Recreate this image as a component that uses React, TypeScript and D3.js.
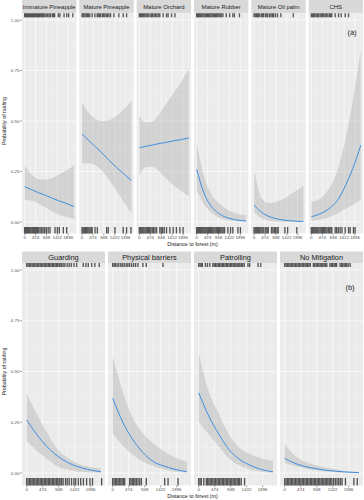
import * as d3 from "d3";

// facet names
const FACETS_A = ["Immature Pineapple", "Mature Pineapple", "Mature Orchard", "Mature Rubber", "Mature Oil palm", "CHS"];
const FACETS_B = ["Guarding", "Physical barriers", "Patrolling", "No Mitigation"];

const X_TICKS = [0, 474, 948, 1422, 1896];
const X_MINOR = [237, 711, 1185, 1659, 2133];
const Y_TICKS = [0, 0.25, 0.5, 0.75, 1];
const Y_MINOR = [0.125, 0.375, 0.625, 0.875];

// distances (m) where the fitted curves were read
const DIST_A = [0, 300, 600, 900, 1200, 1500, 1800, 2150];
const DIST_B = [0, 300, 600, 900, 1200, 1500, 1800, 2200];

// (a) land use: fitted probability, lower and upper CI
const FIT_A = [
  [0.175, 0.16, 0.145, 0.132, 0.118, 0.104, 0.092, 0.076],
  [0.436, 0.403, 0.37, 0.338, 0.303, 0.27, 0.24, 0.205],
  [0.368, 0.375, 0.382, 0.389, 0.395, 0.402, 0.408, 0.416],
  [0.26, 0.148, 0.083, 0.047, 0.027, 0.016, 0.009, 0.005],
  [0.084, 0.05, 0.03, 0.018, 0.011, 0.007, 0.004, 0.002],
  [0.026, 0.037, 0.053, 0.078, 0.118, 0.185, 0.265, 0.38],
];
const LOW_A = [
  [0.11, 0.105, 0.092, 0.072, 0.052, 0.036, 0.025, 0.015],
  [0.29, 0.29, 0.28, 0.25, 0.205, 0.155, 0.1, 0.045],
  [0.228, 0.272, 0.272, 0.245, 0.21, 0.18, 0.155, 0.129],
  [0.158, 0.09, 0.05, 0.025, 0.012, 0.006, 0.003, 0.002],
  [0.05, 0.02, 0.008, 0.003, 0.001, 0, 0, 0],
  [0.005, 0.01, 0.018, 0.03, 0.045, 0.065, 0.085, 0.11],
];
const HIGH_A = [
  [0.277, 0.235, 0.212, 0.21, 0.218, 0.235, 0.255, 0.28],
  [0.59, 0.54, 0.51, 0.5, 0.505, 0.525, 0.555, 0.6],
  [0.525, 0.492, 0.5, 0.54, 0.59, 0.64, 0.69, 0.76],
  [0.39, 0.235, 0.145, 0.1, 0.07, 0.052, 0.04, 0.035],
  [0.26, 0.125, 0.095, 0.098, 0.11, 0.13, 0.152, 0.18],
  [0.1, 0.11, 0.14, 0.19, 0.28, 0.42, 0.6, 0.85],
];

// (b) mitigation
const FIT_B = [
  [0.261, 0.19, 0.13, 0.085, 0.053, 0.032, 0.018, 0.006],
  [0.368, 0.25, 0.163, 0.1, 0.057, 0.035, 0.02, 0.006],
  [0.395, 0.28, 0.19, 0.115, 0.068, 0.04, 0.02, 0.006],
  [0.072, 0.048, 0.032, 0.022, 0.014, 0.009, 0.005, 0.002],
];
const LOW_B = [
  [0.159, 0.11, 0.07, 0.033, 0.017, 0.008, 0.004, 0.001],
  [0.195, 0.135, 0.089, 0.055, 0.034, 0.018, 0.008, 0.002],
  [0.253, 0.19, 0.13, 0.07, 0.038, 0.018, 0.007, 0.001],
  [0.05, 0.034, 0.022, 0.013, 0.007, 0.004, 0.002, 0.001],
];
const HIGH_B = [
  [0.393, 0.29, 0.2, 0.12, 0.076, 0.048, 0.032, 0.023],
  [0.573, 0.4, 0.27, 0.195, 0.146, 0.11, 0.08, 0.056],
  [0.59, 0.4, 0.29, 0.19, 0.125, 0.095, 0.075, 0.06],
  [0.143, 0.085, 0.055, 0.04, 0.028, 0.018, 0.01, 0.005],
];

// rug: raided (top) and not raided (bottom) observations, distance in m
const RUG_TOP_A = [
  [0, 40, 80, 120, 160, 200, 250, 300, 340, 380, 420, 470, 520, 560, 600, 650, 700, 740, 780, 830, 880, 930, 1000, 1060, 1120, 1200, 1260, 1300, 1460, 1530, 1710, 1830, 1910, 2090],
  [0, 40, 80, 130, 180, 230, 280, 340, 443, 559, 660, 700, 750, 800, 880, 930, 990, 1050, 1110, 1170, 1240, 1385, 1600, 1790, 1935],
  [0, 40, 90, 140, 190, 240, 290, 340, 380, 460, 520, 580, 640, 700, 760, 830, 890, 1035, 1180, 1250, 1400, 1545],
  [0, 40, 80, 120, 170, 220, 270, 320, 370, 420, 470, 520, 570, 620, 670, 720, 770, 820, 870, 920, 970, 1020, 1065, 1140, 1283, 1430, 1570, 1640, 1860],
  [0, 50, 100, 150, 200, 250, 330, 380, 420, 500, 560, 600, 680, 740, 800, 850, 930, 1020, 1165, 1705],
  [0, 50, 100, 150, 200, 260, 310, 380, 430, 490, 540, 600, 660, 720, 790, 840, 890, 1035, 1180, 1295, 1470, 1615],
];
const RUG_BOT_A = [
  [0, 40, 80, 120, 160, 200, 240, 280, 330, 380, 420, 460, 510, 560, 610, 670, 740, 800, 870, 940, 1020, 1100, 1318, 1420, 1505, 1680, 1825],
  [0, 40, 80, 120, 160, 200, 250, 300, 350, 400, 440, 565, 665, 1070, 1140, 1430, 1790, 1935, 2125],
  [0, 40, 80, 120, 160, 200, 250, 300, 350, 400, 450, 500, 560, 620, 680, 750, 890, 950, 1010, 1080, 1180, 1325, 1470, 1610, 1760, 1900],
  [0, 40, 80, 120, 160, 200, 240, 280, 320, 360, 400, 440, 480, 520, 560, 600, 650, 700, 750, 800, 850, 900, 950, 1000, 1050, 1100, 1150, 1210, 1355, 1470, 1570, 1790, 1900],
  [0, 40, 80, 120, 160, 200, 250, 300, 350, 400, 480, 520, 570, 620, 760, 820, 880, 940, 1000, 1050, 1340, 1460, 1860],
  [0, 40, 80, 120, 160, 200, 240, 280, 330, 380, 430, 480, 530, 580, 630, 680, 740, 800, 850, 890, 1035, 1100, 1170, 1250, 1330, 1470, 1615, 1685, 1830, 1900],
];
const RUG_TOP_B = [
  [0, 40, 80, 120, 160, 200, 240, 280, 320, 360, 400, 440, 480, 520, 560, 600, 640, 680, 720, 760, 800, 840, 880, 920, 960, 990, 1035, 1080, 1130, 1200, 1260, 1320, 1400, 1480, 1675, 1755, 1825, 1925, 2020, 2150],
  [0, 40, 80, 130, 180, 240, 290, 340, 400, 450, 500, 560, 620, 680, 750, 895, 995, 1490],
  [0, 40, 80, 110, 200, 260, 330, 420, 460, 500, 540, 580, 620, 660, 700, 740, 780, 820, 860, 900, 940, 980, 1020, 1060, 1100, 1140, 1180, 1220, 1260, 1300, 1350, 1460, 1510, 1760, 1840],
  [0, 40, 80, 120, 160, 200, 240, 280, 320, 360, 400, 440, 480, 520, 560, 600, 640, 680, 720, 760, 850, 890, 930, 970, 1010, 1050, 1090, 1130, 1170, 1210, 1250, 1340, 1380, 1420, 1460, 1500, 1540, 1640, 1680, 1720, 1760, 1800, 1840, 1880, 1940],
];
const RUG_BOT_B = [
  [0, 40, 80, 120, 160, 200, 240, 280, 320, 360, 400, 440, 480, 520, 560, 600, 640, 680, 720, 760, 800, 840, 880, 920, 960, 990, 1035, 1080, 1150, 1200, 1260, 1330, 1400, 1450, 1530, 1600, 1680, 1775, 1875, 1950, 2220],
  [0, 40, 80, 120, 160, 200, 240, 280, 320, 355, 500, 540, 580, 620, 660, 700, 750, 800, 850, 995, 1540, 1640, 1935],
  [0, 40, 77, 150, 225, 260, 300, 340, 380, 420, 460, 500, 540, 580, 620, 660, 700, 740, 780, 820, 860, 900, 940, 980, 1020, 1060, 1100, 1140, 1180, 1210, 1260, 1360],
  [0, 40, 80, 120, 160, 200, 240, 280, 320, 360, 400, 440, 480, 520, 560, 600, 640, 680, 720, 760, 800, 840, 880, 920, 960, 1000, 1040, 1080, 1120, 1160, 1200, 1240, 1280, 1320, 1360, 1400, 1450, 1500, 1550, 1600, 1650, 1700, 1800, 2050, 2150],
];

const FONT = "'Liberation Sans', Arial, sans-serif";
const LINE_COL = "#3d8fe3";
const RUG_COL = "#555";

type RowProps = {
  names: string[];
  left: number;
  right: number;
  gap: number;
  stripTop: number;
  panelTop: number;
  panelBottom: number;
  yRange: [number, number];
  xDomain: [number, number];
  dist: number[];
  fit: number[][];
  lo: number[][];
  hi: number[][];
  rugTop: number[][];
  rugBot: number[][];
  stripSize: number;
  botRugLen: number;
  tag: string;
  tagX: number;
  tagY: number;
};

function Row(p: RowProps) {
  const n = p.names.length;
  const pw = (p.right - p.left - p.gap * (n - 1)) / n;
  const x = d3.scaleLinear().domain(p.xDomain).range([0, pw]);
  const y = d3.scaleLinear().domain([0, 1]).range(p.yRange);
  const ph = p.panelBottom - p.panelTop;

  const yMid = (p.yRange[0] + p.yRange[1]) / 2;

  return (
    <g>
      {/* y axis (left of first panel) */}
      {Y_TICKS.map((t) => (
        <g key={"yt" + t}>
          <line x1={p.left - 1.8} x2={p.left} y1={y(t)} y2={y(t)} stroke="#333" strokeWidth={0.5} />
          <text x={p.left - 2.6} y={y(t) + 1.5} fontSize={4.4} fill="#4d4d4d" textAnchor="end" fontFamily={FONT}>
            {t.toFixed(2)}
          </text>
        </g>
      ))}
      <text
        transform={`translate(6.2,${yMid}) rotate(-90)`}
        fontSize={5.3}
        textAnchor="middle"
        fill="#1a1a1a"
        fontFamily={FONT}
      >
        Probability of raiding
      </text>
      <text x={(p.left + p.right) / 2} y={p.panelBottom + 12.8} fontSize={5.3} textAnchor="middle" fill="#1a1a1a" fontFamily={FONT}>
        Distance to forest (m)
      </text>

      {p.names.map((name, k) => {
        const px = p.left + k * (pw + p.gap);
        const area = d3
          .area<number>()
          .x((_, i) => x(p.dist[i]))
          .y0((_, i) => y(p.lo[k][i]))
          .y1((d) => y(d))
          .curve(d3.curveMonotoneX);
        const line = d3
          .line<number>()
          .x((_, i) => x(p.dist[i]))
          .y((d) => y(d))
          .curve(d3.curveMonotoneX);
        return (
          <g key={name} transform={`translate(${px},0)`}>
            {/* strip */}
            <rect x={0} y={p.stripTop} width={pw} height={p.panelTop - p.stripTop} fill="#d9d9d9" />
            <text
              x={pw / 2}
              y={(p.stripTop + p.panelTop) / 2 + p.stripSize * 0.36}
              fontSize={p.stripSize}
              textAnchor="middle"
              fill="#1a1a1a"
              fontFamily={FONT}
            >
              {name}
            </text>
            {/* panel */}
            <rect x={0} y={p.panelTop} width={pw} height={ph} fill="#ebebeb" />
            {Y_MINOR.map((t) => (
              <line key={"ym" + t} x1={0} x2={pw} y1={y(t)} y2={y(t)} stroke="#fff" strokeWidth={0.3} />
            ))}
            {X_MINOR.map((t) => (
              <line key={"xm" + t} x1={x(t)} x2={x(t)} y1={p.panelTop} y2={p.panelBottom} stroke="#fff" strokeWidth={0.3} />
            ))}
            {Y_TICKS.map((t) => (
              <line key={"yg" + t} x1={0} x2={pw} y1={y(t)} y2={y(t)} stroke="#fff" strokeWidth={0.6} />
            ))}
            {X_TICKS.map((t) => (
              <line key={"xg" + t} x1={x(t)} x2={x(t)} y1={p.panelTop} y2={p.panelBottom} stroke="#fff" strokeWidth={0.6} />
            ))}
            {/* confidence band and fit */}
            <path d={area(p.hi[k]) || ""} fill="#999" fillOpacity={0.3} />
            <path d={line(p.fit[k]) || ""} fill="none" stroke={LINE_COL} strokeWidth={1} />
            {/* rugs */}
            {p.rugTop[k].map((d, i) => (
              <line key={"rt" + i} x1={x(d)} x2={x(d)} y1={p.panelTop} y2={p.panelTop + 4} stroke={RUG_COL} strokeWidth={1.35} />
            ))}
            {p.rugBot[k].map((d, i) => (
              <line
                key={"rb" + i}
                x1={x(d)}
                x2={x(d)}
                y1={p.panelBottom - p.botRugLen}
                y2={p.panelBottom}
                stroke={RUG_COL}
                strokeWidth={1.35}
              />
            ))}
            {/* x axis */}
            {X_TICKS.map((t) => (
              <g key={"xt" + t}>
                <line x1={x(t)} x2={x(t)} y1={p.panelBottom} y2={p.panelBottom + 1.8} stroke="#333" strokeWidth={0.5} />
                <text x={x(t)} y={p.panelBottom + 5.6} fontSize={4.4} fill="#4d4d4d" textAnchor="middle" fontFamily={FONT}>
                  {t}
                </text>
              </g>
            ))}
          </g>
        );
      })}
      <text x={p.tagX} y={p.tagY} fontSize={7.5} fill="#1a1a1a" textAnchor="middle" fontFamily={FONT}>
        {p.tag}
      </text>
    </g>
  );
}

export default function App() {
  return (
    <svg width={364} height={500} style={{ position: "absolute", left: 0, top: 0, background: "#fff" }}>
      <rect width={364} height={500} fill="#fff" />
      <Row
        names={FACETS_A}
        left={22}
        right={363}
        gap={3}
        stripTop={0}
        panelTop={13.3}
        panelBottom={233.5}
        yRange={[222, 20]}
        xDomain={[-117, 2244]}
        dist={DIST_A}
        fit={FIT_A}
        lo={LOW_A}
        hi={HIGH_A}
        rugTop={RUG_TOP_A}
        rugBot={RUG_BOT_A}
        stripSize={5.9}
        botRugLen={6.5}
        tag="(a)"
        tagX={352}
        tagY={35}
      />
      <Row
        names={FACETS_B}
        left={22}
        right={363}
        gap={3}
        stripTop={251.5}
        panelTop={263}
        panelBottom={485.5}
        yRange={[473, 270]}
        xDomain={[-139, 2320]}
        dist={DIST_B}
        fit={FIT_B}
        lo={LOW_B}
        hi={HIGH_B}
        rugTop={RUG_TOP_B}
        rugBot={RUG_BOT_B}
        stripSize={7.4}
        botRugLen={7.5}
        tag="(b)"
        tagX={350}
        tagY={290}
      />
    </svg>
  );
}
